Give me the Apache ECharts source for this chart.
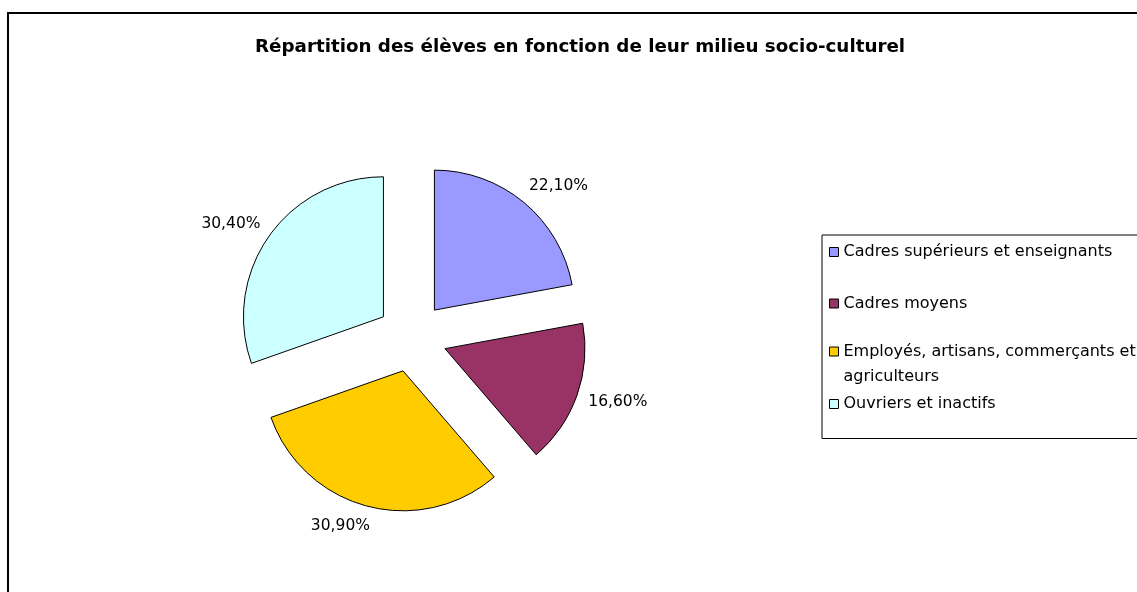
<!DOCTYPE html>
<html>
<head>
<meta charset="utf-8">
<script src="https://cdn.jsdelivr.net/npm/echarts@6/dist/echarts.min.js"></script>
<style>
html,body{margin:0;padding:0;background:#fff;}
#chart{width:1137px;height:592px;}
</style>
</head>
<body>
<div id="chart"></div>
<script>
const chartTitle = 'Répartition des élèves en fonction de leur milieu socio-culturel';
const categories = [
  'Cadres supérieurs et enseignants',
  'Cadres moyens',
  'Employés, artisans, commerçants et agriculteurs',
  'Ouvriers et inactifs'
];
const shares = [22.1, 16.6, 30.9, 30.4];
const sliceColors = ['#9999FF', '#993366', '#FFCC00', '#CCFFFF'];

const FONT = 'DejaVu Sans';
const chart = echarts.init(document.getElementById('chart'), null, {renderer: 'canvas'});

const fmtPct = v => v.toFixed(2).replace('.', ',') + '%';

const option = {
  animation: false,
  backgroundColor: '#ffffff',
  graphic: [{
    type: 'rect',
    silent: true,
    z: -10,
    shape: {x: 8, y: 13, width: 1400, height: 900},
    style: {fill: 'none', stroke: '#000', lineWidth: 2}
  }],
  title: {
    text: chartTitle,
    left: 255,
    top: 38,
    padding: 0,
    textStyle: {fontFamily: FONT, fontSize: 18.3, fontWeight: 'bold', color: '#000'}
  },
  legend: {
    orient: 'vertical',
    left: 822,
    top: 235,
    padding: [-24, 20, 19.5, 7],
    itemGap: 0,
    itemWidth: 9,
    itemHeight: 9,
    icon: 'rect',
    borderColor: '#000',
    borderWidth: 1,
    borderRadius: 0,
    selectedMode: false,
    itemStyle: {borderColor: '#000', borderWidth: 1},
    textStyle: {fontFamily: FONT, fontSize: 16, color: '#000'},
    formatter: name => name.indexOf(' et agriculteurs') >= 0
      ? '\n' + name.replace(' et agriculteurs', ' et\nagriculteurs')
      : name,
    data: [
      {name: categories[0], textStyle: {lineHeight: 82}},
      {name: categories[1], textStyle: {lineHeight: 21}},
      {name: categories[2], textStyle: {lineHeight: 25}},
      {name: categories[3], textStyle: {lineHeight: 30}}
    ]
  },
  series: [{
    type: 'pie',
    center: [412, 337],
    radius: 140,
    startAngle: 90,
    clockwise: true,
    selectedMode: 'multiple',
    selectedOffset: 35,
    avoidLabelOverlap: false,
    emphasis: {disabled: true},
    itemStyle: {borderColor: '#000', borderWidth: 1},
    select: {itemStyle: {borderColor: '#000', borderWidth: 1}},
    label: {
      show: true,
      position: 'outside',
      distanceToLabelLine: -8.5,
      fontFamily: FONT,
      fontSize: 15.5,
      color: '#000',
      formatter: p => fmtPct(p.value)
    },
    labelLine: {show: false, length: 21, length2: 0},
    data: categories.map((n, i) => ({
      name: n,
      value: shares[i],
      selected: true,
      itemStyle: {color: sliceColors[i]}
    }))
  }]
};
chart.setOption(option);
</script>
</body>
</html>
